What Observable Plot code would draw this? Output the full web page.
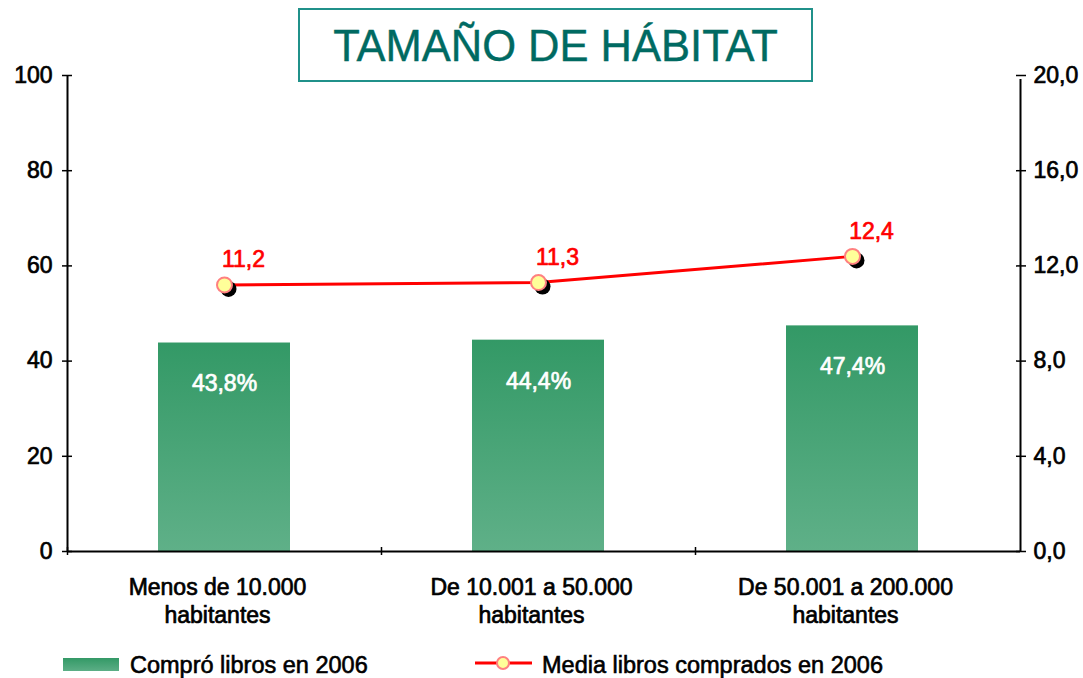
<!DOCTYPE html>
<html>
<head>
<meta charset="utf-8">
<script src="https://cdn.jsdelivr.net/npm/d3@7"></script>
<script src="https://cdn.jsdelivr.net/npm/@observablehq/plot@0.6"></script>
<style>
  body { margin: 0; background: #fff; font-family: "Liberation Sans", Arial, sans-serif; }
  #wrap { position: relative; width: 1083px; height: 678px; overflow: hidden; }
  #chart { position: absolute; left: 0; top: 0; }
  #chart svg text { paint-order: stroke; stroke-width: 0.7px; }
  #title { position: absolute; left: 298px; top: 8px; width: 515px; height: 74px; box-sizing: border-box;
    border: 2px solid #20918a; color: #006a62; font-size: 43.5px; display: flex; align-items: center; justify-content: center; z-index: 2; background: #fff; padding-top: 3px; -webkit-text-stroke: 0.4px #006a62; }
  .leg { position: absolute; font-size: 23.5px; color: #000; line-height: 1; -webkit-text-stroke: 0.6px #000; }
</style>
</head>
<body>
<div id="wrap">
  <div id="chart"></div>
  <div id="title">TAMAÑO DE HÁBITAT</div>
  <div class="leg" style="left:63px;top:658px;width:56px;height:13px;background:linear-gradient(#339966,#5cae86);-webkit-text-stroke:0;"></div>
  <div class="leg" style="left:130px;top:654px;">Compró libros en 2006</div>
  <svg class="leg" style="left:475px;top:653px;" width="58" height="20">
    <line x1="0" x2="57" y1="10" y2="10" stroke="#ff0000" stroke-width="3"></line>
    <circle cx="28" cy="10" r="6" fill="#ffff99" stroke="#ff8080" stroke-width="2"></circle>
  </svg>
  <div class="leg" style="left:542px;top:654px;">Media libros comprados en 2006</div>
</div>
<script>
const categories = ["Menos de 10.000\nhabitantes", "De 10.001 a 50.000\nhabitantes", "De 50.001 a 200.000\nhabitantes"];
const pctBought = [43.8, 44.4, 47.4];
const avgBooks = [11.2, 11.3, 12.4];
const leftTicks = [0, 20, 40, 60, 80, 100];
const rightTicks = [0, 4, 8, 12, 16, 20];

const k = leftTicks[leftTicks.length - 1] / rightTicks[rightTicks.length - 1];
const data = categories.map((c, i) => ({ cat: c, i, pct: pctBought[i], avg: avgBooks[i] }));
const comma1 = v => d3.format(".1f")(v).replace(".", ",");
const fs = 23;
const gap = 11; // right value axis sits slightly right of the category area
const n = categories.length;

const plot = Plot.plot({
  width: 1083,
  height: 640,
  marginTop: 75,
  marginBottom: 89,
  marginLeft: 67,
  marginRight: 74,
  style: { fontFamily: "Liberation Sans, Arial, sans-serif", fontSize: fs + "px", color: "#000", background: "transparent", overflow: "visible" },
  x: { type: "linear", domain: [0, n], axis: null },
  y: { domain: [0, 100], axis: null },
  marks: [
    Plot.rectY(data, { x1: d => d.i, x2: d => d.i + 1, y1: 0, y2: "pct", insetLeft: 91, insetRight: 91, fill: "url(#barGrad)" }),
    Plot.ruleY([0], { stroke: "#000", strokeWidth: 2, insetRight: -gap }),
    Plot.ruleX([0], { y1: 0, y2: 100, stroke: "#000", strokeWidth: 2 }),
    Plot.ruleX([n], { y1: 0, y2: 100, stroke: "#000", strokeWidth: 2, dx: gap, insetBottom: -4 }),
    Plot.axisY({ anchor: "left", ticks: leftTicks, tickSize: 10, dx: 5, tickPadding: 10, fontSize: fs, strokeWidth: 1.5, label: null }),
    Plot.axisY({ anchor: "right", ticks: rightTicks.map(v => v * k), tickFormat: v => comma1(v / k), tickSize: 10, dx: gap - 5, tickPadding: 8, fontSize: fs, strokeWidth: 1.5, label: null }),
    Plot.axisX({ anchor: "bottom", ticks: d3.range(n), tickSize: 8, dy: -4, tickFormat: () => "", strokeWidth: 1.5, label: null }),
    Plot.text(data, { x: d => d.i + 0.5, y: 0, text: "cat", dx: -7, dy: 24, lineAnchor: "top", lineHeight: 1.22, fontSize: fs, fill: "#000", stroke: "#000" }),
    Plot.text(data, { x: d => d.i + 0.5, y: "pct", text: d => comma1(d.pct) + "%", dy: 41, fontSize: fs, fill: "#fff", stroke: "#fff" }),
    Plot.line(data, { x: d => d.i + 0.5, y: d => d.avg * k, stroke: "#ff0000", strokeWidth: 3 }),
    Plot.dot(data, { x: d => d.i + 0.5, y: d => d.avg * k, r: 8, fill: "#000", dx: 4, dy: 4 }),
    Plot.dot(data, { x: d => d.i + 0.5, y: d => d.avg * k, r: 7.5, fill: "#ffff99", stroke: "#ff8080", strokeWidth: 2 }),
    Plot.text(data, { x: d => d.i + 0.5, y: d => d.avg * k, text: d => comma1(d.avg), dx: 19, dy: -25, fontSize: fs, fill: "#ff0000", stroke: "#ff0000" })
  ]
});

const ns = "http://www.w3.org/2000/svg";
const defs = document.createElementNS(ns, "defs");
defs.innerHTML = '<linearGradient id="barGrad" x1="0" y1="0" x2="0" y2="1"><stop offset="0" stop-color="#339966"/><stop offset="1" stop-color="#5fb088"/></linearGradient>';
plot.insertBefore(defs, plot.firstChild);
plot.querySelectorAll("g[aria-label='y-axis tick label']").forEach(g => { g.setAttribute("stroke", "#000"); });
document.getElementById("chart").appendChild(plot);
</script>
</body>
</html>
